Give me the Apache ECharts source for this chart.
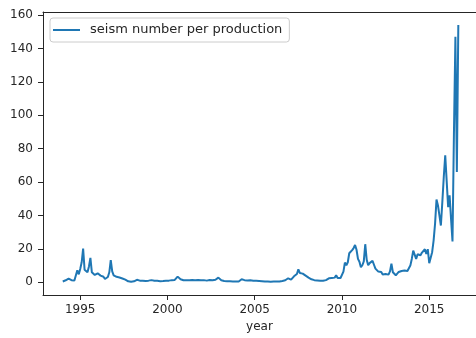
<!DOCTYPE html>
<html>
<head>
<meta charset="utf-8">
<script src="https://cdn.jsdelivr.net/npm/echarts@6/dist/echarts.min.js"></script>
<style>
  html, body { margin: 0; padding: 0; background: #fff; }
  #chart { width: 476px; height: 338px; }
</style>
</head>
<body>
<div id="chart"></div>
<script>
// Monthly seism count per unit of production, January to December of each year
const y1994 = [0.5, 0.8, 1.2, 1.8, 2.2, 2.0, 1.3, 1.0, 1.1, 1.5, 7.2, 4.8];
const y1995 = [8.0, 12.0, 20.2, 7.5, 6.5, 6.0, 9.5, 14.6, 6.0, 5.2, 4.4, 5.0];
const y1996 = [5.4, 4.8, 4.0, 3.8, 3.3, 2.0, 1.5, 3.2, 6.0, 13.3, 6.5, 4.2];
const y1997 = [3.6, 3.3, 3.0, 2.9, 2.7, 2.3, 2.0, 1.6, 1.0, 0.6, 0.4, 0.3];
const y1998 = [0.3, 0.6, 1.2, 1.5, 1.2, 1.0, 0.9, 1.0, 0.8, 0.8, 0.9, 1.0];
const y1999 = [1.5, 1.3, 1.0, 0.9, 0.8, 0.9, 0.8, 0.7, 0.9, 0.8, 0.9, 1.0];
const y2000 = [1.0, 1.0, 1.1, 1.3, 1.2, 1.4, 2.2, 3.4, 2.4, 1.8, 1.4, 1.2];
const y2001 = [1.1, 1.2, 1.0, 1.3, 1.5, 1.4, 1.6, 1.3, 1.2, 1.4, 1.3, 1.2];
const y2002 = [1.1, 1.3, 1.2, 1.0, 1.2, 1.4, 1.1, 1.3, 1.2, 1.5, 2.2, 2.8];
const y2003 = [1.8, 1.2, 1.0, 0.8, 0.7, 0.6, 0.5, 0.6, 0.4, 0.5, 0.6, 0.5];
const y2004 = [0.6, 0.5, 0.8, 1.8, 1.0, 1.3, 1.2, 1.1, 0.9, 1.2, 1.0, 0.9];
const y2005 = [0.8, 0.9, 0.7, 0.8, 0.6, 0.7, 0.6, 0.5, 0.6, 0.5, 0.5, 0.4];
const y2006 = [0.4, 0.5, 0.4, 0.5, 0.6, 0.5, 0.7, 0.8, 0.9, 1.2, 1.6, 2.4];
const y2007 = [2.8, 1.6, 2.2, 3.6, 3.2, 5.0, 7.8, 5.6, 5.0, 5.2, 4.6, 4.0];
const y2008 = [3.4, 2.8, 2.2, 1.8, 1.5, 1.3, 1.2, 1.1, 1.0, 0.9, 1.0, 0.9];
const y2009 = [1.0, 1.3, 2.2, 2.4, 2.8, 2.6, 2.0, 2.8, 4.2, 2.6, 2.4, 2.6];
const y2010 = [2.6, 6.4, 11.8, 10.2, 12.0, 17.4, 16.5, 19.3, 20.5, 22.3, 19.5, 14.0];
const y2011 = [12.3, 9.0, 10.2, 12.5, 22.8, 13.5, 10.2, 11.5, 12.0, 12.8, 10.5, 8.2];
const y2012 = [7.4, 6.4, 6.8, 6.2, 4.7, 5.5, 5.0, 5.2, 4.6, 6.5, 11.2, 6.0];
const y2013 = [5.0, 4.2, 4.8, 6.2, 7.2, 6.8, 7.6, 7.0, 6.3, 6.8, 8.4, 10.0];
const y2014 = [14.0, 19.0, 19.8, 14.0, 16.8, 16.0, 16.2, 17.8, 18.5, 19.8, 17.0, 19.8];
const y2015 = [11.4, 12.5, 18.0, 25.0, 35.0, 49.5, 46.0, 40.0, 34.0, 48.0, 63.0, 76.0];
const y2016 = [77.0, 45.0, 52.0, 38.0, 24.5, 90.0, 147.0, 66.0, 154.0];

const firstYear = 1994;
const years = [y1994, y1995, y1996, y1997, y1998, y1999, y2000, y2001, y2002,
  y2003, y2004, y2005, y2006, y2007, y2008, y2009, y2010, y2011, y2012,
  y2013, y2014, y2015, y2016];

const xTicks = [1995, 2000, 2005, 2010, 2015];
const yTicks = [0, 20, 40, 60, 80, 100, 120, 140, 160];
const seriesName = 'seism number per production';

// [decimal year, value] pairs, one per month
const points = [];
years.forEach((vals, i) => {
  vals.forEach((v, m) => points.push([firstYear + i + m / 12, v]));
});

const FONT = 'DejaVu Sans';
const INK = '#262626';
const xMin = 1992.867, xMax = 2017.68;

const chart = echarts.init(document.getElementById('chart'), null, { renderer: 'canvas' });
chart.setOption({
  animation: false,
  backgroundColor: '#fff',
  grid: { left: 43, right: 0, top: 12, bottom: 43, containLabel: false },
  legend: {
    left: 50, top: 18,
    data: [seriesName],
    icon: 'rect', itemWidth: 27, itemHeight: 2,
    padding: [4, 7, 4, 3],
    backgroundColor: '#fff',
    borderColor: '#cccccc', borderWidth: 1, borderRadius: 3,
    textStyle: { fontFamily: FONT, fontSize: 13, color: INK, lineHeight: 16, padding: [0, 0, 0, 5] }
  },
  xAxis: [{
    type: 'value', min: xMin, max: xMax,
    name: 'year', nameLocation: 'middle', nameGap: 26,
    nameTextStyle: { fontFamily: FONT, fontSize: 12, color: INK },
    axisLine: { show: true, onZero: false, lineStyle: { color: INK, width: 1 } },
    axisTick: { show: true, length: 5, lineStyle: { color: INK }, customValues: xTicks },
    axisLabel: { fontFamily: FONT, fontSize: 12, color: INK, margin: 9,
      customValues: xTicks, formatter: v => String(Math.round(v)) },
    splitLine: { show: false }
  }, {
    type: 'value', position: 'top', min: xMin, max: xMax,
    axisLine: { show: true, onZero: false, lineStyle: { color: INK, width: 1 } },
    axisTick: { show: false }, axisLabel: { show: false }, splitLine: { show: false }
  }],
  yAxis: {
    type: 'value', min: -7.6, max: 161.8,
    axisLine: { show: true, onZero: false, lineStyle: { color: INK, width: 1 } },
    axisTick: { show: true, length: 5, lineStyle: { color: INK }, customValues: yTicks },
    axisLabel: { fontFamily: FONT, fontSize: 12, color: INK, margin: 10, customValues: yTicks },
    splitLine: { show: false }
  },
  series: [{
    name: seriesName,
    type: 'line',
    xAxisIndex: 0,
    data: points,
    showSymbol: false,
    symbol: 'none',
    lineStyle: { color: '#1f77b4', width: 2 },
    itemStyle: { color: '#1f77b4' }
  }]
});
</script>
</body>
</html>
